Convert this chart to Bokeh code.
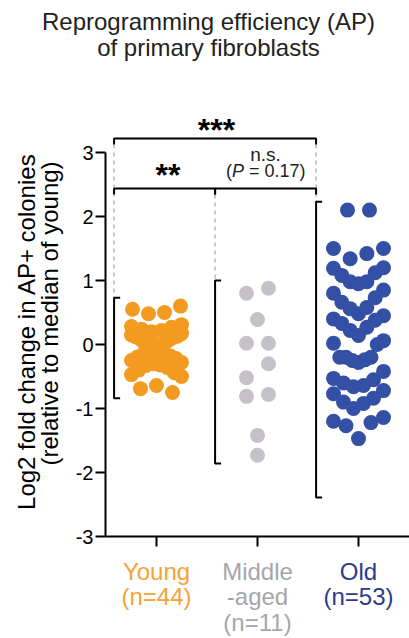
import numpy as np
from bokeh.plotting import figure
from bokeh.models import Range1d, FixedTicker, Label, LinearAxis
from bokeh.embed import file_html
from bokeh.resources import INLINE

# ---------------- data ----------------
groups = ["Young", "Middle-aged", "Old"]
group_labels = ["Young\n(n=44)", "Middle\n-aged\n(n=11)", "Old\n(n=53)"]

young = [0.60, 0.55, 0.50, 0.48,
         0.31, 0.28, 0.27, 0.24, 0.22, 0.20,
         0.17, 0.15, 0.13, 0.12, 0.11, 0.09, 0.07,
         0.03, 0.02, 0.00, 0.00, 0.00, -0.02, -0.05,
         -0.10, -0.13, -0.15, -0.16, -0.18, -0.20, -0.22,
         -0.25, -0.28, -0.30, -0.32, -0.33, -0.36,
         -0.40, -0.44, -0.47, -0.50,
         -0.64, -0.69, -0.75]
middle = [0.88, 0.80, 0.39, 0.02, 0.02, -0.30, -0.52, -0.78, -0.81, -1.42, -1.73]
old = [2.10, 2.10,
       1.50, 1.50, 1.42, 1.34,
       1.20, 1.19, 1.12, 1.08, 0.98, 0.98, 0.95,
       0.85, 0.80, 0.73, 0.66, 0.58, 0.56,
       0.48, 0.45, 0.40, 0.38, 0.33, 0.27, 0.22, 0.14,
       0.06, 0.02, 0.00, -0.20, -0.20, -0.20, -0.24, -0.25,
       -0.28, -0.42, -0.53, -0.55, -0.60, -0.64,
       -0.66, -0.72, -0.77, -0.84, -0.90, -0.92, -1.00,
       -1.14, -1.20, -1.22, -1.27,
       -1.47, -2.25]
old = old[:53]
series = [young, middle, old]

spread_hi = [0.73, 1.00, 2.23]
spread_lo = [-0.84, -1.86, -2.39]

y_ticks = [-3, -2, -1, 0, 1, 2, 3]
y_tick_labels = ["-3", "-2", "-1", "0", "1", "2", "3"]

# comparisons: (group a, group b, bracket level)
comparisons = [(0, 2, 0), (0, 1, 1), (1, 2, 1)]
sig_text = ["***", "**", "n.s."]
ns_detail = ["(", "P", "= 0.17)"]   # "(P = 0.17)" with italic P

title_lines = ["Reprogramming efficiency (AP)", "of primary fibroblasts"]
ylabel_lines = ["Log2 fold change in AP+ colonies", "(relative to median of young)"]

# ---------------- style ----------------
point_colors = ["#F39B20", "#C6C1C8", "#3450A4"]
label_colors = ["#F6A236", "#A6A6AA", "#2E3B8C"]
FONT = "Liberation Sans"
PX_X = 101.0   # pixels per x unit
PX_Y = 64.0    # pixels per y unit
W, H = 409, 638
CX1 = 156      # pixel of first category
Y0PX = 344     # pixel of y = 0

# spread layout parameters (bin width, bin origin, centre key, max step px)
bin_w = [0.24, 0.39, 0.39]
bin_o = [-0.04, 0.13, 0.08]
median_key = [True, False, False]
step_max = [16.0, 22.0, 22.0]
SPREAD_W = 50.0   # max width of a row, px


def spread(vals, width, origin, around_median, smax):
    vals = np.asarray(vals, dtype=float)
    bins = np.floor((vals - origin) / width + 1e-9).astype(int)
    xs = np.zeros(len(vals))
    med = np.median(vals)
    for b in np.unique(bins):
        idx = np.where(bins == b)[0]
        key = np.abs(vals[idx] - med) if around_median else vals[idx]
        order = idx[np.argsort(key, kind="stable")]
        n = len(order)
        s = smax if n < 2 else min(smax, SPREAD_W / (n - 1))
        offs = (np.arange(n) - (n - 1) / 2.0) * s
        offs = sorted(offs, key=lambda o: (round(abs(o), 6), o))
        for i, o in zip(order, offs):
            xs[i] = o / PX_X
    return xs


def sx(s):
    return 1 + (s - CX1) / PX_X


def sy(s):
    return (Y0PX - s) / PX_Y


p = figure(width=W, height=H, output_backend="svg", toolbar_location=None,
           x_range=Range1d(sx(0), sx(W)), y_range=Range1d(sy(H), sy(0)),
           x_axis_type=None, y_axis_type=None, min_border=0)
p.title.visible = False
p.outline_line_color = None
p.grid.visible = False
p.background_fill_color = "white"

AX_X = sx(105)   # y-axis location (data x)


def style_axis(ax):
    ax.axis_line_width = 2
    ax.axis_line_color = "black"
    ax.major_tick_line_width = 2
    ax.major_tick_line_color = "black"
    ax.major_tick_out = 10
    ax.major_tick_in = 0
    ax.minor_tick_line_color = None


yax = LinearAxis(ticker=FixedTicker(ticks=y_ticks),
                 major_label_overrides={t: s for t, s in zip(y_ticks, y_tick_labels)},
                 bounds=(-3, 3), fixed_location=AX_X)
style_axis(yax)
yax.major_label_text_font = FONT
yax.major_label_text_font_size = "20px"
yax.major_label_text_color = "black"
yax.major_label_standoff = 2
p.add_layout(yax, "left")

for g in range(3):
    xax = LinearAxis(ticker=FixedTicker(ticks=[g + 1]),
                     major_label_overrides={g + 1: group_labels[g]},
                     bounds=(AX_X, sx(W)), fixed_location=-3)
    style_axis(xax)
    if g > 0:
        xax.axis_line_color = None
    xax.major_label_text_font = FONT
    xax.major_label_text_font_size = "24px"
    xax.major_label_text_color = label_colors[g]
    xax.major_label_standoff = 11
    xax.major_label_text_line_height = 0.95
    p.add_layout(xax, "below")

OFF = 0.42
TICK = 0.06
lev_y = [sy(138), sy(188)]
tick_len = 6 / PX_Y

# dashed guide lines
dash_top = [lev_y[0] - tick_len, lev_y[1] - tick_len, lev_y[0] - tick_len]
for g in range(3):
    bx = g + 1 - OFF
    p.segment(x0=[bx], y0=[dash_top[g]], x1=[bx], y1=[spread_hi[g]],
              line_color="#A8A8A8", line_width=1.2, line_dash="4 4")

# spread brackets
for g in range(3):
    bx = g + 1 - OFF
    p.multi_line(xs=[[bx + TICK, bx, bx, bx + TICK]],
                 ys=[[spread_hi[g], spread_hi[g], spread_lo[g], spread_lo[g]]],
                 line_color="black", line_width=2)

# significance brackets
for a, b, lev in comparisons:
    xa, xb = a + 1 - OFF, b + 1 - OFF
    yl = lev_y[lev]
    p.multi_line(xs=[[xa, xa, xb, xb]], ys=[[yl - tick_len, yl, yl, yl - tick_len]],
                 line_color="black", line_width=2)

# points
for g, vals in enumerate(series):
    xs = (g + 1) + spread(vals, bin_w[g], bin_o[g], median_key[g], step_max[g])
    p.scatter(x=xs, y=vals, size=15, fill_color=point_colors[g], line_color=None)

# significance texts
p.add_layout(Label(x=sx(216), y=sy(129), text=sig_text[0], text_font=FONT, text_font_size="32px",
                   text_font_style="bold", text_align="center", text_baseline="alphabetic",
                   text_color="black"))
p.add_layout(Label(x=sx(167.5), y=sy(174), text=sig_text[1], text_font=FONT, text_font_size="32px",
                   text_font_style="bold", text_align="center", text_baseline="alphabetic",
                   text_color="black"))
p.add_layout(Label(x=sx(265), y=sy(154), text=sig_text[2], text_font=FONT, text_font_size="19px",
                   text_align="center", text_baseline="alphabetic", text_color="#222222"))
ns_x = [225.5, 231.5, 248.5]
ns_style = ["normal", "italic", "normal"]
for piece, px, st in zip(ns_detail, ns_x, ns_style):
    p.add_layout(Label(x=sx(px), y=sy(170), text=piece, text_font=FONT, text_font_size="18px",
                       text_font_style=st, text_align="left", text_baseline="alphabetic",
                       text_color="#222222"))

# title
for line, base in zip(title_lines, [21, 47]):
    p.add_layout(Label(x=sx(208), y=sy(base), text=line, text_font=FONT, text_font_size="24px",
                       text_align="center", text_baseline="alphabetic", text_color="#222222"))

# y label
for line, base, cy in zip(ylabel_lines, [26, 48.5], [331, 313]):
    p.add_layout(Label(x=sx(base), y=sy(cy), text=line, text_font=FONT, text_font_size="24px",
                       text_align="center", text_baseline="alphabetic", angle=np.pi / 2,
                       text_color="black"))

open("out.html", "w").write(file_html(p, INLINE))
